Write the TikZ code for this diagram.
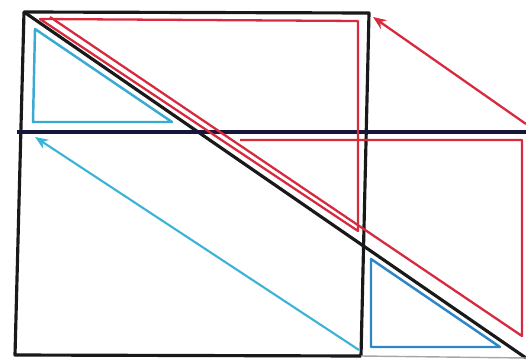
\documentclass[tikz,border=0pt]{standalone}
\usepackage{xcolor}
\usepackage{tikz}
\usetikzlibrary{arrows.meta}

\definecolor{inkred}{HTML}{D62A3E}
\definecolor{inkcyan}{HTML}{3BB3D6}
\definecolor{inkblue}{HTML}{2F86C6}
\definecolor{inknavy}{HTML}{16163C}

\begin{document}
\begin{tikzpicture}[
    x=0.02cm, y=-0.02cm,
    frame/.style={draw=black!90, line width=1.8pt, line join=round},
    midline/.style={draw=inknavy, line width=1.9pt},
    redline/.style={draw=inkred, line width=1.3pt, line join=round},
    cyanline/.style={draw=inkcyan, line width=1.2pt, line join=round},
    blueline/.style={draw=inkblue, line width=1.4pt, line join=round},
    arrow/.style={-{Stealth[length=7.5pt, width=6pt]}}
]
    \useasboundingbox (0,0) rectangle (526,361);

    % outer frame and diagonal
    \coordinate (tl) at (24,12);
    \coordinate (tr) at (369,13);
    \coordinate (bl) at (15,355);
    \coordinate (bm) at (361,356);
    \coordinate (br) at (526,358);
    \coordinate (ml) at (17,132);
    \coordinate (mr) at (526,132);

    \draw[frame] (bm) -- (bl) -- (tl) -- (tr) -- (bm);
    \draw[frame] (tl) -- (br);
    \draw[midline] (ml) -- (mr);
    \draw[frame, draw=black!35, line width=0.8pt] (bm) -- (br);

    % red triangles
    \coordinate (ua) at (40,19);
    \coordinate (ub) at (358,21);
    \coordinate (uc) at (358,231);
    \draw[redline] (ua) -- (ub) -- (uc) -- cycle;

    \coordinate (la) at (240,140);
    \coordinate (lb) at (522,140);
    \coordinate (lc) at (522,336);
    \coordinate (ld) at (50,17);
    \draw[redline] (la) -- (lb) -- (lc) -- (ld);

    \coordinate (rs) at (526,124);
    \coordinate (rt) at (373,17);
    \draw[redline, arrow] (rs) -- (rt);

    % blue triangles
    \draw[blueline, draw=inkcyan!80!inkblue] (35,29) -- (33,122) -- (172,122) -- cycle;
    \draw[blueline] (371,259) -- (371,347) -- (500,347) -- cycle;

    \coordinate (cs) at (359,350);
    \coordinate (ct) at (35,137);
    \draw[cyanline, arrow] (cs) -- (ct);
\end{tikzpicture}
\end{document}
